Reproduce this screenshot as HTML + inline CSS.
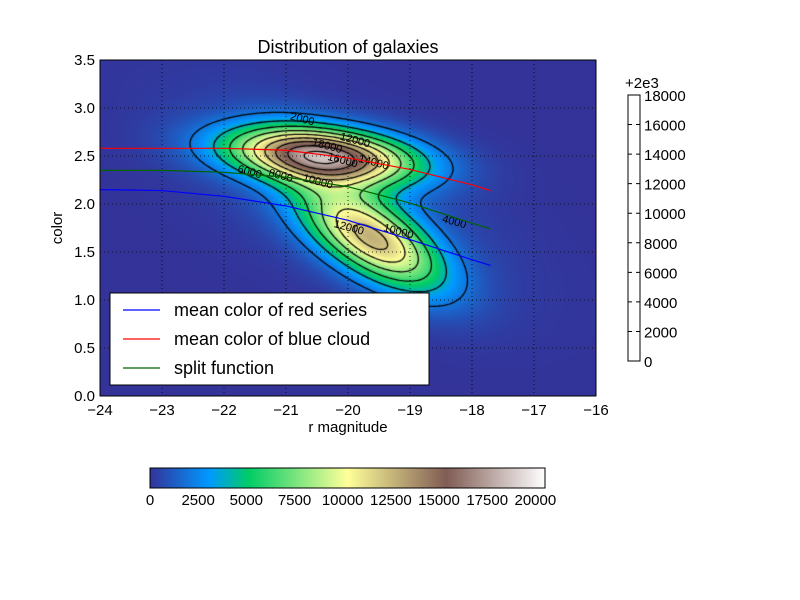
<!DOCTYPE html>
<html><head><meta charset="utf-8">
<style>
body{margin:0;background:#fff;font-family:"Liberation Sans","DejaVu Sans",sans-serif;}
#wrap{position:relative;width:800px;height:600px;overflow:hidden;}
canvas{position:absolute;left:100px;top:60px;}
svg{position:absolute;left:0;top:0;}
</style></head><body>
<div id="wrap">
<canvas id="cv" width="496" height="336"></canvas>
<svg id="sv" width="800" height="600"></svg>
</div>
<script>
// data
const xTicks=[-24,-23,-22,-21,-20,-19,-18,-17,-16];
const yTicks=[0.0,0.5,1.0,1.5,2.0,2.5,3.0,3.5];
const blobCx=[-20.4,-19.6,-20.0,-20.1];
const blobCy=[2.5,1.62,2.05,2.05];
const blobAmp=[16300,10500,1800,1200];
const blobSx=[1.0,0.8,0.9,1.7];
const blobSy=[0.19,0.26,0.3,0.5];
const blobSlope=[-0.06,-0.33,-0.5,-0.3];
const contourLevels=[2000,4000,6000,8000,10000,12000,14000,16000,18000];
const labelX=[-20.75,-21.6,-21.1,-20.5,-20.35,-20.1,-19.6,-19.9,-20.0,-19.2,-18.3];
const labelY=[2.85,2.3,2.26,2.2,2.57,2.42,2.4,2.63,1.72,1.68,1.78];
const labelText=['2000','6000','8000','10000','18000','16000','14000','12000','12000','10000','4000'];
const redSeriesX=[-24,-23,-22,-21,-20,-19,-18,-17.7];
const redSeriesY=[2.15,2.14,2.08,1.98,1.83,1.63,1.42,1.36];
const blueCloudX=[-24,-23,-22,-21,-20,-19,-18,-17.7];
const blueCloudY=[2.58,2.58,2.58,2.56,2.48,2.36,2.2,2.14];
const splitX=[-24,-23,-22,-21,-20,-19,-18,-17.7];
const splitY=[2.35,2.35,2.33,2.28,2.18,2.01,1.8,1.74];
const cbTicks=[0,2500,5000,7500,10000,12500,15000,17500,20000];
const sideTicks=[0,2000,4000,6000,8000,10000,12000,14000,16000,18000];
const vmax=20500;

const X0=100,X1=596,Y0=60,Y1=396,xmin=-24,xmax=-16,ymin=0,ymax=3.5;
const sx=v=>X0+(v-xmin)/(xmax-xmin)*(X1-X0);
const sy=v=>Y1-(v-ymin)/(ymax-ymin)*(Y1-Y0);
function dens(x,y){let s=0;for(let i=0;i<blobCx.length;i++){const t=Math.atan(blobSlope[i]);const c=Math.cos(t),sn=Math.sin(t);const dx=x-blobCx[i],dy=y-blobCy[i];const u=(dx*c+dy*sn)/blobSx[i],v=(-dx*sn+dy*c)/blobSy[i];s+=blobAmp[i]*Math.exp(-0.5*(u*u+v*v));}return s;}
const stops=[[0,.2,.2,.6],[.15,0,.6,1],[.25,0,.8,.4],[.5,1,1,.6],[.75,.5,.36,.33],[1,1,1,1]];
function cmap(t){t=Math.max(0,Math.min(1,t));for(let i=1;i<stops.length;i++){if(t<=stops[i][0]){const a=stops[i-1],b=stops[i],f=(t-a[0])/(b[0]-a[0]);return [0,1,2].map(k=>Math.round(255*(a[k+1]+(b[k+1]-a[k+1])*f)));}}return[255,255,255];}
const cv=document.getElementById('cv'),ctx=cv.getContext('2d');
const W=496,H=336,img=ctx.createImageData(W,H);
for(let j=0;j<H;j++)for(let i=0;i<W;i++){const x=xmin+(i+.5)/W*(xmax-xmin),y=ymax-(j+.5)/H*(ymax-ymin);const c=cmap(dens(x,y)/vmax);const p=(j*W+i)*4;img.data[p]=c[0];img.data[p+1]=c[1];img.data[p+2]=c[2];img.data[p+3]=255;}
ctx.putImageData(img,0,0);
// contours (marching squares)
const G=2,nx=W/G+1,ny=H/G+1,grid=[];
for(let j=0;j<ny;j++){grid.push([]);for(let i=0;i<nx;i++){grid[j].push(dens(xmin+i*G/W*(xmax-xmin),ymax-j*G/H*(ymax-ymin)));}}
ctx.strokeStyle='#000';ctx.lineWidth=1.3;ctx.beginPath();
for(const L of contourLevels){for(let j=0;j<ny-1;j++)for(let i=0;i<nx-1;i++){const v=[grid[j][i],grid[j][i+1],grid[j+1][i+1],grid[j+1][i]];const pc=[[i,j],[i+1,j],[i+1,j+1],[i,j+1]];const pts=[];for(let e=0;e<4;e++){const a=v[e],b=v[(e+1)%4];if((a<L)!==(b<L)){const f=(L-a)/(b-a),p=pc[e],q=pc[(e+1)%4];pts.push([(p[0]+(q[0]-p[0])*f)*G,(p[1]+(q[1]-p[1])*f)*G]);}}if(pts.length>=2){ctx.moveTo(pts[0][0],pts[0][1]);ctx.lineTo(pts[1][0],pts[1][1]);}if(pts.length===4){ctx.moveTo(pts[2][0],pts[2][1]);ctx.lineTo(pts[3][0],pts[3][1]);}}}
ctx.stroke();
// svg overlay
const sv=document.getElementById('sv');const NS='http://www.w3.org/2000/svg';
function mk(t,a,txt){const e=document.createElementNS(NS,t);for(const k in a)e.setAttribute(k,a[k]);if(txt!==undefined)e.textContent=txt;sv.appendChild(e);return e;}
let e;
for(const v of xTicks){e=mk('line',{x1:sx(v),x2:sx(v),y1:Y0,y2:Y1,stroke:'#000','stroke-dasharray':'1,3','stroke-width':0.8});


e=mk('text',{x:sx(v),y:Y1+19,'font-size':15,'text-anchor':'middle'},v<0?'\u2212'+(-v):String(v));

}
for(const v of yTicks){e=mk('line',{x1:X0,x2:X1,y1:sy(v),y2:sy(v),stroke:'#000','stroke-dasharray':'1,3','stroke-width':0.8});


e=mk('text',{x:X0-5,y:sy(v)+5,'font-size':15,'text-anchor':'end'},v.toFixed(1));

}
labelText.forEach((t,i)=>{e=mk('text',{x:sx(labelX[i]),y:sy(labelY[i]),'font-size':11,'text-anchor':'middle',transform:'rotate(15 '+sx(labelX[i])+' '+sy(labelY[i])+')'},t);

});
function line(xs,ys,col,name){const d=xs.map((x,i)=>(i?'L':'M')+sx(x)+','+sy(ys[i])).join('');e=mk('path',{d:d,fill:'none',stroke:col,'stroke-width':1.2});

}
line(redSeriesX,redSeriesY,'#0000ff','red-series-mean-line');
line(blueCloudX,blueCloudY,'#ff0000','blue-cloud-mean-line');
line(splitX,splitY,'#006400','split-function-line');
e=mk('rect',{x:X0,y:Y0,width:X1-X0,height:Y1-Y0,fill:'none',stroke:'#000'});


e=mk('text',{x:348,y:53,'font-size':18,'text-anchor':'middle'},'Distribution of galaxies');


e=mk('text',{x:348,y:432,'font-size':15,'text-anchor':'middle'},'r magnitude');


e=mk('text',{x:62,y:228,'font-size':15,'text-anchor':'middle',transform:'rotate(-90 62 228)'},'color');


// legend
e=mk('rect',{x:110,y:293,width:319,height:92,fill:'#fff',stroke:'#000'});


const legLabels=['mean color of red series','mean color of blue cloud','split function'],legCols=['#0000ff','#ff0000','#006400'];
legLabels.forEach((t,i)=>{const y=310+i*29;e=mk('line',{x1:123,x2:160,y1:y,y2:y,stroke:legCols[i],'stroke-width':1.2});


e=mk('text',{x:174,y:y+6,'font-size':18},t);

});
// bottom colorbar
const defs=mk('defs',{});const lg=document.createElementNS(NS,'linearGradient');lg.setAttribute('id','tg');defs.appendChild(lg);
for(let k=0;k<=20;k++){const c=cmap(k/20);const s=document.createElementNS(NS,'stop');s.setAttribute('offset',k/20);s.setAttribute('stop-color','rgb('+c.join(',')+')');lg.appendChild(s);}
const CB0=150,CB1=545;const cbx=v=>CB0+v/vmax*(CB1-CB0);
e=mk('rect',{x:CB0,y:468,width:CB1-CB0,height:20,fill:'url(#tg)',stroke:'#000'});


for(const v of cbTicks){e=mk('text',{x:cbx(v),y:505,'font-size':15,'text-anchor':'middle'},String(v));

}
// side contour colorbar
e=mk('rect',{x:628,y:95,width:12,height:266,fill:'#fff',stroke:'#000'});


const sby=v=>361-v/18000*266;
for(const v of sideTicks){e=mk('path',{d:'M628,'+sby(v)+'h4M640,'+sby(v)+'h-4',stroke:'#000'});


e=mk('text',{x:644,y:sby(v)+6,'font-size':15},String(v));

}
e=mk('text',{x:625,y:88,'font-size':15},'+2e3');


</script>
</body></html>
